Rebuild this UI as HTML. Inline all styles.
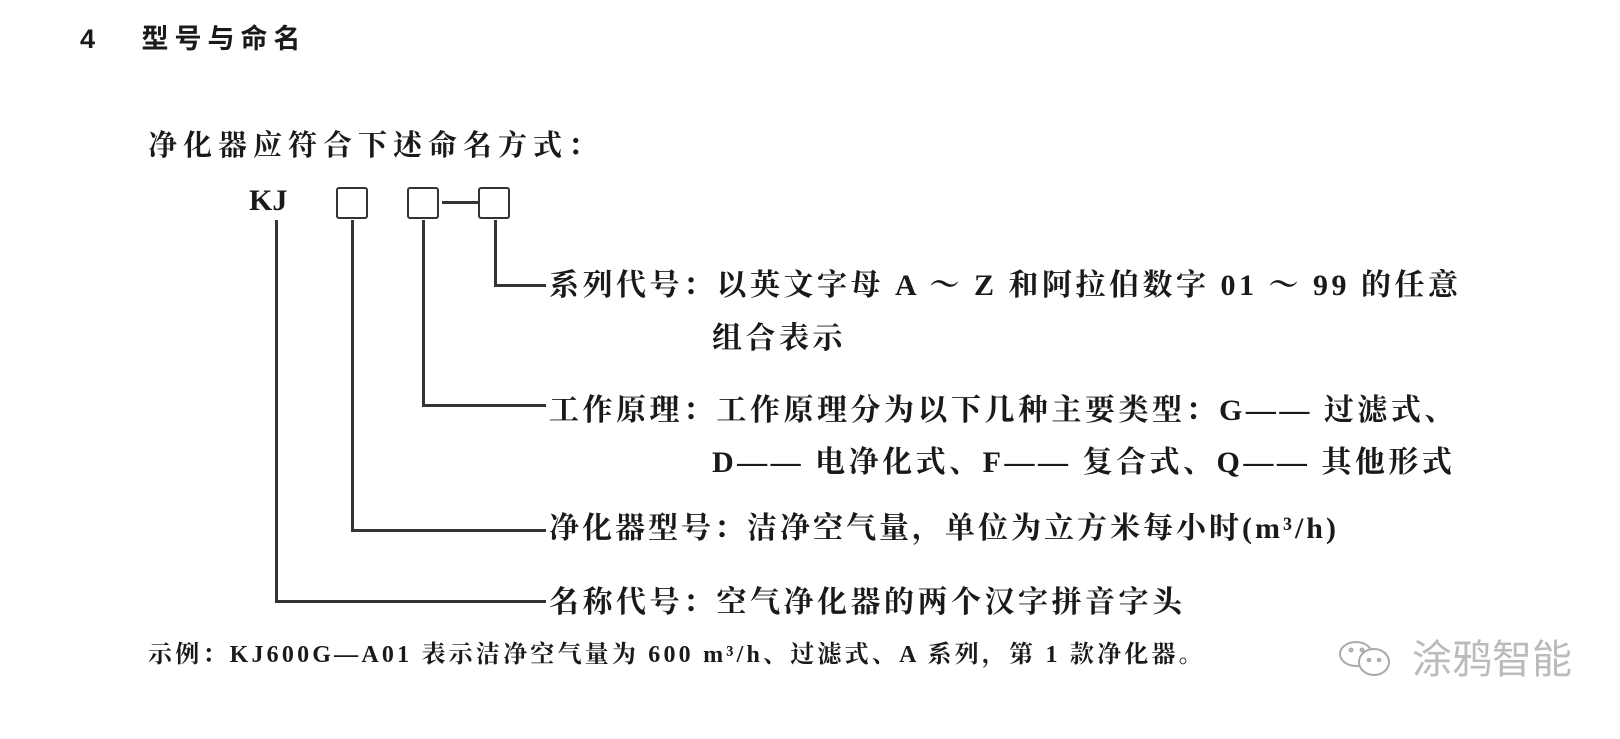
<!DOCTYPE html>
<html><head><meta charset="utf-8"><style>
body{margin:0;width:1620px;height:739px;background:#fff;position:relative;overflow:hidden;font-family:"Liberation Serif","Noto Serif CJK SC",serif;color:#1a1a1a}
.t{position:absolute;white-space:nowrap;font-weight:bold;line-height:1}
.l{position:absolute;background:#333}
.b{position:absolute;width:28px;height:28px;border:2.5px solid #333;border-radius:3px}
</style></head><body>
<div class="t" style="left:80px;top:26px;font-size:27px;letter-spacing:6px;font-family:'Liberation Sans','Noto Sans CJK SC',sans-serif">4&nbsp;&nbsp;&nbsp;型号与命名</div>
<div class="t" style="left:148px;top:132px;font-size:29px;letter-spacing:6px">净化器应符合下述命名方式：</div>
<div class="t" style="left:249px;top:186px;font-size:30px">KJ</div>
<div class="b" style="left:336px;top:187px"></div>
<div class="b" style="left:407px;top:187px"></div>
<div class="l" style="left:442px;top:201px;width:36px;height:2.5px"></div>
<div class="b" style="left:478px;top:187px"></div>
<div class="l" style="left:275px;top:220px;width:2.5px;height:382px"></div>
<div class="l" style="left:351px;top:220px;width:2.5px;height:311px"></div>
<div class="l" style="left:422px;top:220px;width:2.5px;height:186px"></div>
<div class="l" style="left:494px;top:220px;width:2.5px;height:66px"></div>
<div class="l" style="left:494px;top:284px;width:52px;height:2.5px"></div>
<div class="l" style="left:422px;top:404px;width:124px;height:2.5px"></div>
<div class="l" style="left:351px;top:529px;width:195px;height:2.5px"></div>
<div class="l" style="left:275px;top:600px;width:271px;height:2.5px"></div>
<div class="t" style="left:549px;top:271px;font-size:30px;letter-spacing:3.5px">系列代号：以英文字母 A ～ Z 和阿拉伯数字 01 ～ 99 的任意</div>
<div class="t" style="left:712px;top:324px;font-size:30px;letter-spacing:3.5px">组合表示</div>
<div class="t" style="left:549px;top:396px;font-size:30px;letter-spacing:3.5px">工作原理：工作原理分为以下几种主要类型：G—— 过滤式、</div>
<div class="t" style="left:712px;top:448px;font-size:30px;letter-spacing:3.5px">D—— 电净化式、F—— 复合式、Q—— 其他形式</div>
<div class="t" style="left:549px;top:514px;font-size:30px;letter-spacing:3px">净化器型号：洁净空气量，单位为立方米每小时(m³/h)</div>
<div class="t" style="left:549px;top:588px;font-size:30px;letter-spacing:3.5px">名称代号：空气净化器的两个汉字拼音字头</div>
<div class="t" style="left:148px;top:643px;font-size:24px;letter-spacing:3.2px">示例：KJ600G—A01 表示洁净空气量为 600 m³/h、过滤式、A 系列，第 1 款净化器。</div>
<svg style="position:absolute;left:1338px;top:640px" width="64" height="40" viewBox="0 0 64 40" fill="none" stroke="#aaa" stroke-width="2"><ellipse cx="18" cy="14" rx="16" ry="12"/><ellipse cx="36" cy="22" rx="15" ry="13" fill="#fff"/><circle cx="13" cy="10" r="1.5"/><circle cx="24" cy="10" r="1.5"/><circle cx="31" cy="20" r="1.3"/><circle cx="41" cy="20" r="1.3"/></svg>
<div class="t" style="left:1412px;top:640px;font-size:40px;font-weight:normal;color:#bbb;font-family:'Liberation Sans','Noto Sans CJK SC',sans-serif">涂鸦智能</div>
</body></html>
